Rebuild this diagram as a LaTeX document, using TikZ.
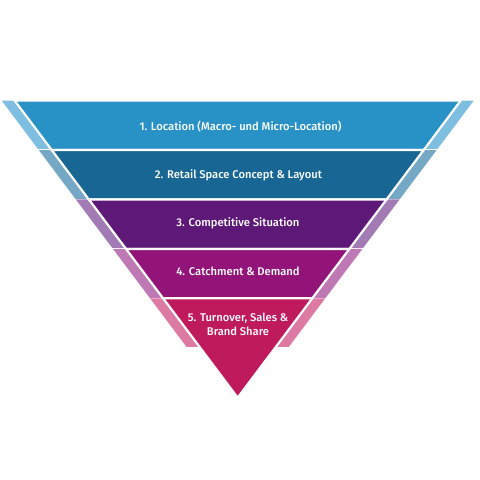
\documentclass[tikz,border=0pt]{standalone}
\usepackage{fontspec}
\setmainfont{Fira Sans}[BoldFont={* Medium}]
\usetikzlibrary{calc}
\definecolor{bandA}{HTML}{2891C6}
\definecolor{stripA}{HTML}{7DBEE1}
\definecolor{bandB}{HTML}{186693}
\definecolor{stripB}{HTML}{74A8C4}
\definecolor{bandC}{HTML}{5E1978}
\definecolor{stripC}{HTML}{A37BB4}
\definecolor{bandD}{HTML}{921478}
\definecolor{stripD}{HTML}{BE78B4}
\definecolor{bandE}{HTML}{BE1A5C}
\definecolor{stripE}{HTML}{DC7AA4}
\begin{document}
\begin{tikzpicture}[x=1pt,y=-1pt,
  bandshape/.style={draw=white,line width=2.2pt,line join=miter},
  lbl/.style={text=white,font=\fontsize{11.2}{13.5}\selectfont\bfseries,align=center,inner sep=0pt}]
\useasboundingbox (0,0) rectangle (480,480);
% edge coordinates
\coordinate (L0) at (14.6,100.5);  \coordinate (R0) at (460.8,100.5);
\coordinate (L1) at (51.7,150.0);  \coordinate (R1) at (423.7,150.0);
\coordinate (L2) at (88.8,199.4);  \coordinate (R2) at (386.6,199.4);
\coordinate (L3) at (126.0,248.9); \coordinate (R3) at (349.4,248.9);
\coordinate (L4) at (163.1,298.3); \coordinate (R4) at (312.3,298.3);
\coordinate (L5) at (200.2,347.8); \coordinate (R5) at (275.2,347.8);
\coordinate (A) at (237.7,397.7);
% side strips
\foreach \a/\b/\c in {0/1/stripA,1/2/stripB,2/3/stripC,3/4/stripD,4/5/stripE}{
  \fill[\c] ($(L\a)+(-13,0)$) -- (L\a) -- (L\b) -- ($(L\b)+(-13,0)$) -- cycle;
  \fill[\c] ($(R\a)+(13,0)$) -- (R\a) -- (R\b) -- ($(R\b)+(13,0)$) -- cycle;
  \draw[white,line width=1.6pt] ($(L\b)+(-14,0)$) -- (L\b);
  \draw[white,line width=1.6pt] ($(R\b)+(14,0)$) -- (R\b);
}
% bands
\draw[bandshape,fill=bandA] (L0) -- (R0) -- (R1) -- (L1) -- cycle;
\draw[bandshape,fill=bandB] (L1) -- (R1) -- (R2) -- (L2) -- cycle;
\draw[bandshape,fill=bandC] (L2) -- (R2) -- (R3) -- (L3) -- cycle;
\draw[bandshape,fill=bandD] (L3) -- (R3) -- (R4) -- (L4) -- cycle;
\draw[bandshape,fill=bandE] (L4) -- (R4) -- (A) -- cycle;
% labels
\node[lbl] (t1) at (240.5,126.5) {1. Location (Macro- und Micro-Location)};
\node[lbl] (t2) at (238.5,175) {2. Retail Space Concept \& Layout};
\node[lbl] (t3) at (238,223.5) {3. Competitive Situation};
\node[lbl] (t4) at (238,271.5) {4. Catchment \& Demand};
\node[lbl] (t5) at (238,324.5) {5. Turnover, Sales \&\\Brand Share};
\end{tikzpicture}
\end{document}
